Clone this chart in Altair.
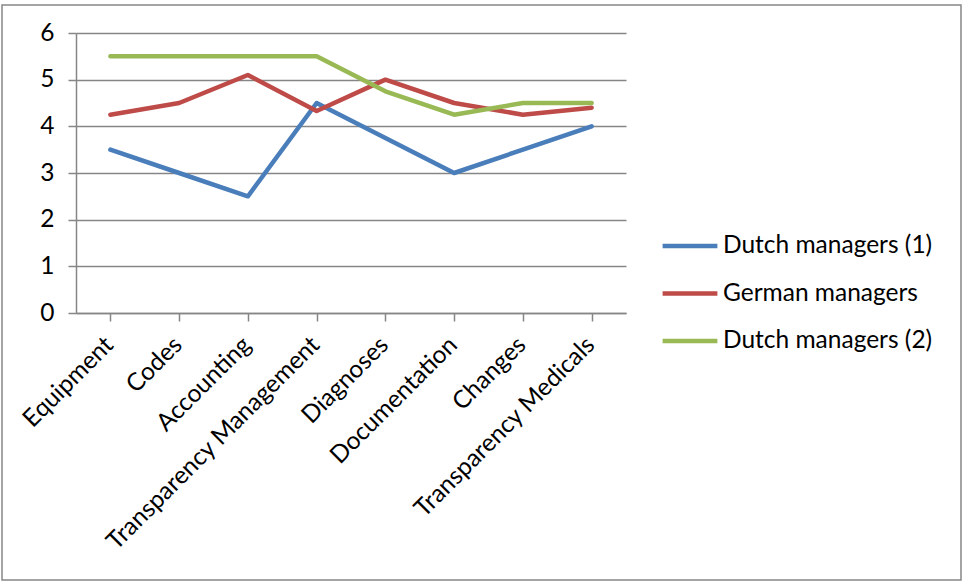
import altair as alt
import pandas as pd

categories = ["Equipment", "Codes", "Accounting", "Transparency Management",
              "Diagnoses", "Documentation", "Changes", "Transparency Medicals"]
series_names = ["Dutch managers (1)", "German managers", "Dutch managers (2)"]
dutch_1 = [3.5, 3.0, 2.5, 4.5, 3.75, 3.0, 3.5, 4.0]
german = [4.25, 4.5, 5.1, 4.33, 5.0, 4.5, 4.25, 4.4]
dutch_2 = [5.5, 5.5, 5.5, 5.5, 4.75, 4.25, 4.5, 4.5]
y_ticks = [0, 1, 2, 3, 4, 5, 6]
colors = ["#4A7EBB", "#BE4B48", "#98B954"]

rows = []
for name, vals in zip(series_names, [dutch_1, german, dutch_2]):
    for cat, v in zip(categories, vals):
        rows.append({"category": cat, "value": v, "series": name})
df = pd.DataFrame(rows)

FONT = "Lato"
GRAY = "#868686"
FS = 24.5

lines = alt.Chart(df).mark_line(strokeWidth=4.5, strokeCap="round", strokeJoin="round").encode(
    x=alt.X("category:N", sort=categories, title=None,
            scale=alt.Scale(paddingInner=0, paddingOuter=0),
            axis=alt.Axis(labelAngle=-45, labelAlign="right", labelBaseline="middle",
                          labelFontSize=FS, labelFont=FONT, labelColor="black",
                          labelPadding=20, labelOffset=-1, labelLimit=0,
                          tickSize=8, bandPosition=0,
                          domainColor=GRAY, tickColor=GRAY,
                          domainWidth=1.5, tickWidth=1.5, grid=False)),
    y=alt.Y("value:Q", title=None,
            scale=alt.Scale(domain=[0, 6], nice=False),
            axis=alt.Axis(values=y_ticks, tickSize=8, labelFontSize=FS, labelFont=FONT,
                          labelColor="black", labelPadding=14,
                          domainColor=GRAY, tickColor=GRAY,
                          domainWidth=1.5, tickWidth=1.5,
                          gridColor=GRAY, gridWidth=1.5)),
    color=alt.Color("series:N", sort=series_names,
                    scale=alt.Scale(domain=series_names, range=colors),
                    legend=alt.Legend(title=None, orient="none", legendX=584, legendY=183,
                                      symbolType="stroke", symbolSize=3000,
                                      symbolStrokeWidth=4.5, labelFontSize=FS,
                                      labelFont=FONT, labelColor="black", labelLimit=0,
                                      labelOffset=3, rowPadding=5.5)),
)

# thin frame around the whole chart area
frame = alt.Chart(pd.DataFrame({"k": [0]})).mark_rect(
    fill=None, stroke=GRAY, strokeWidth=1.5
).encode(x=alt.value(-74), x2=alt.value(885), y=alt.value(-28), y2=alt.value(547))

chart = alt.layer(lines, frame).properties(
    width=550, height=280,
    autosize=alt.AutoSizeParams(type="none"),
    padding={"left": 76, "top": 33, "right": 337, "bottom": 268},
    background="white",
).configure_view(stroke=None)

chart.save("out.html", embed_options={"renderer": "svg", "actions": False})
